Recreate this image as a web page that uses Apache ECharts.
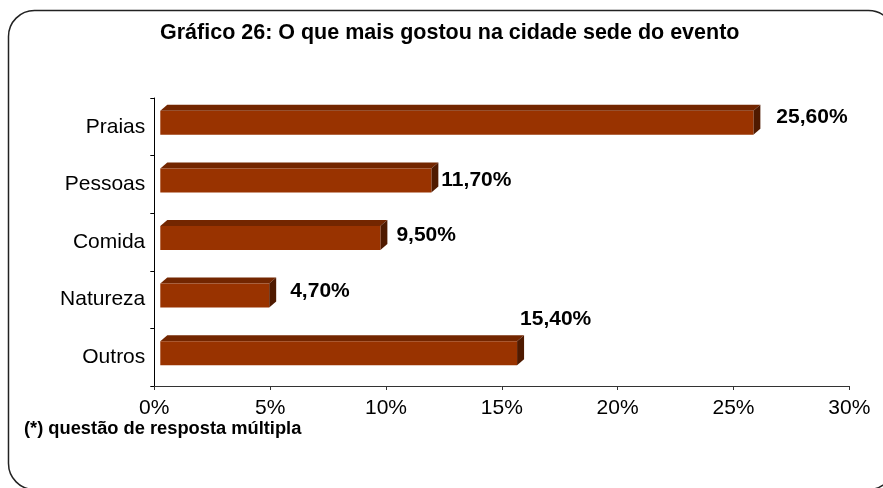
<!DOCTYPE html>
<html>
<head>
<meta charset="utf-8">
<script src="https://cdn.jsdelivr.net/npm/echarts@6/dist/echarts.min.js"></script>
<style>
  html, body { margin: 0; padding: 0; background: #fff; }
  #main { width: 883px; height: 488px; }
</style>
</head>
<body>
<div id="main"></div>
<script>
// dados
const categorias = ['Praias', 'Pessoas', 'Comida', 'Natureza', 'Outros']
const valores = [25.6, 11.7, 9.5, 4.7, 15.4]
const rotulos = ['25,60%', '11,70%', '9,50%', '4,70%', '15,40%']
const ticksX = [0, 5, 10, 15, 20, 25, 30]

// ajuste fino dos rótulos (como o Excel os deixou)
const nudge = [[16, -6], [3, 0], [9, -3], [14, -4], [-4, -34]]

const font = 'Arial, "Liberation Sans", sans-serif'
const DX = 7, DY = 6, SHIFT = 6, H = 24

const myChart = echarts.init(document.getElementById('main'))

myChart.setOption({
  animation: false,
  grid: { left: 154.3, right: 33.7, top: 98, bottom: 102 },
  xAxis: {
    type: 'value',
    min: 0,
    max: 30,
    interval: 5,
    splitLine: { show: false },
    axisLine: { show: true, lineStyle: { color: '#333', width: 1 } },
    axisTick: { show: true, length: 4, lineStyle: { color: '#333' } },
    axisLabel: {
      color: '#000', fontFamily: font, fontSize: 21, margin: 12,
      formatter: function (v) { return ticksX.indexOf(v) >= 0 ? v + '%' : '' }
    }
  },
  yAxis: {
    type: 'category',
    data: categorias,
    inverse: true,
    axisLine: { show: true, lineStyle: { color: '#000', width: 1 } },
    axisTick: { show: true, length: 4, lineStyle: { color: '#000' } },
    axisLabel: { color: '#000', fontFamily: font, fontSize: 21, margin: 9 }
  },
  graphic: [
    {
      type: 'rect', z: -1, silent: true,
      shape: { x: 8.5, y: 10.5, width: 886, height: 479, r: 26 },
      style: { fill: 'none', stroke: '#222', lineWidth: 1.5 }
    },
    {
      type: 'text', left: 160, top: 22,
      style: {
        text: 'Gráfico 26: O que mais gostou na cidade sede do evento',
        fontFamily: font, fontSize: 21.5, fontWeight: 'bold', fill: '#000'
      }
    },
    {
      type: 'text', left: 24, top: 420,
      style: {
        text: '(*) questão de resposta múltipla',
        fontFamily: font, fontSize: 18.3, fontWeight: 'bold', fill: '#000'
      }
    }
  ],
  series: [{
    type: 'custom',
    data: valores.map(function (v, i) { return [v, i] }),
    encode: { x: 0, y: 1 },
    renderItem: function (params, api) {
      const i = api.value(1)
      const p0 = api.coord([0, i])
      const p1 = api.coord([api.value(0), i])
      const x0 = p0[0] + SHIFT
      const x1 = p1[0] + SHIFT
      const yT = p0[1] - 4 - H / 2
      const yB = yT + H
      const n = nudge[i]
      return {
        type: 'group',
        children: [
          {
            type: 'polygon',
            shape: { points: [[x0, yT], [x0 + DX, yT - DY], [x1 + DX, yT - DY], [x1, yT]] },
            style: { fill: '#732600' }
          },
          {
            type: 'polygon',
            shape: { points: [[x1, yT], [x1 + DX, yT - DY], [x1 + DX, yB - DY], [x1, yB]] },
            style: { fill: '#4f1a00' }
          },
          {
            type: 'rect',
            shape: { x: x0, y: yT, width: x1 - x0, height: H },
            style: { fill: '#993300' }
          },
          {
            type: 'text',
            style: {
              x: x1 + DX + n[0], y: p0[1] - 4 + n[1],
              text: rotulos[i], verticalAlign: 'middle',
              fontFamily: font, fontSize: 21, fontWeight: 'bold', fill: '#000'
            }
          }
        ]
      }
    }
  }]
})

window.addEventListener('resize', function () { myChart.resize() })
</script>
</body>
</html>
